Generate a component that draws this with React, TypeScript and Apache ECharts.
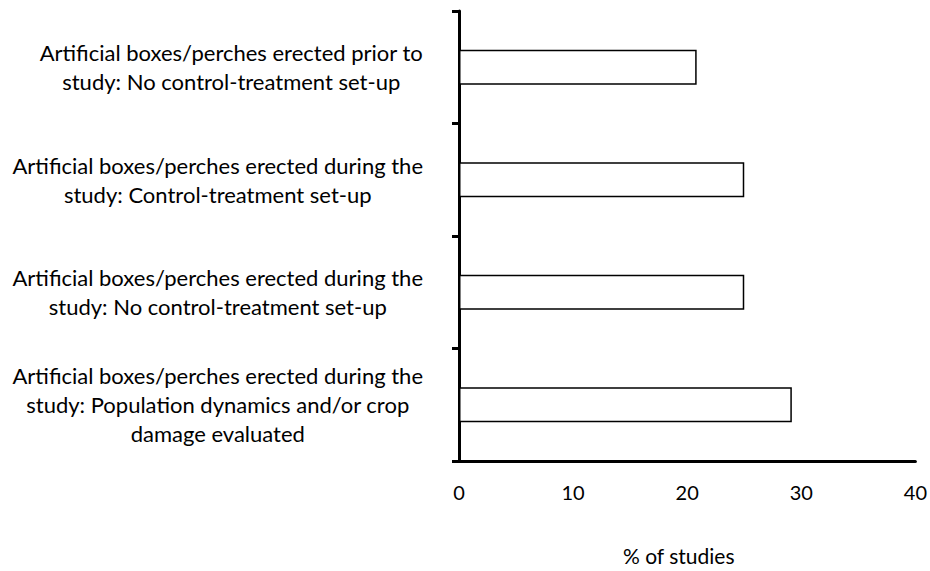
import React, { useEffect, useRef } from "react";
import * as echarts from "echarts";

const categories: string[] = [
  "Artificial boxes/perches erected prior to\nstudy: No control-treatment set-up",
  "Artificial boxes/perches erected during the\nstudy: Control-treatment set-up",
  "Artificial boxes/perches erected during the\nstudy: No control-treatment set-up",
  "Artificial boxes/perches erected during the\nstudy: Population dynamics and/or crop\ndamage evaluated",
];
const values: number[] = [20.83, 25, 25, 29.17];
const xTicks = { min: 0, max: 40, interval: 10 };
const xName = "% of studies";

const FONT = "Lato";

export default function App() {
  const ref = useRef<HTMLDivElement>(null);
  useEffect(() => {
    if (!ref.current) return;
    const chart = echarts.init(ref.current, undefined, { renderer: "svg" });
    chart.setOption({
      animation: false,
      backgroundColor: "#ffffff",
      grid: { left: 459, right: 12, top: 11, bottom: 107, containLabel: false },
      xAxis: {
        type: "value",
        min: xTicks.min,
        max: xTicks.max,
        interval: xTicks.interval,
        name: xName,
        nameLocation: "middle",
        nameGap: 84,
        nameTextStyle: { color: "#000", fontFamily: FONT, fontSize: 21, padding: [0, 17, 0, 0] },
        axisLine: { show: true, lineStyle: { color: "#000", width: 3 } },
        axisTick: { show: false },
        splitLine: { show: false },
        axisLabel: { color: "#000", fontFamily: FONT, fontSize: 20, margin: 21 },
      },
      yAxis: {
        type: "category",
        inverse: true,
        data: categories,
        axisLine: { show: true, lineStyle: { color: "#000", width: 3 } },
        axisTick: { show: true, length: 7, lineStyle: { color: "#000", width: 3 } },
        axisLabel: {
          color: "#000",
          fontFamily: FONT,
          fontSize: 22,
          margin: 36,
          lineHeight: 29,
          formatter: (v: string) =>
            v
              .split("\n")
              .map((l) => `{c|${l}}`)
              .join("\n"),
          rich: {
            c: { align: "center", color: "#000", fontFamily: FONT, fontSize: 22, lineHeight: 29 },
          },
        },
      },
      series: [
        {
          type: "bar",
          data: values,
          barWidth: 35,
          itemStyle: { color: "#ffffff", borderColor: "#000", borderWidth: 1.5 },
        },
      ],
    });
    return () => chart.dispose();
  }, []);
  return (
    <div
      ref={ref}
      style={{ position: "fixed", left: 0, top: 0, width: 930, height: 571 }}
    />
  );
}
